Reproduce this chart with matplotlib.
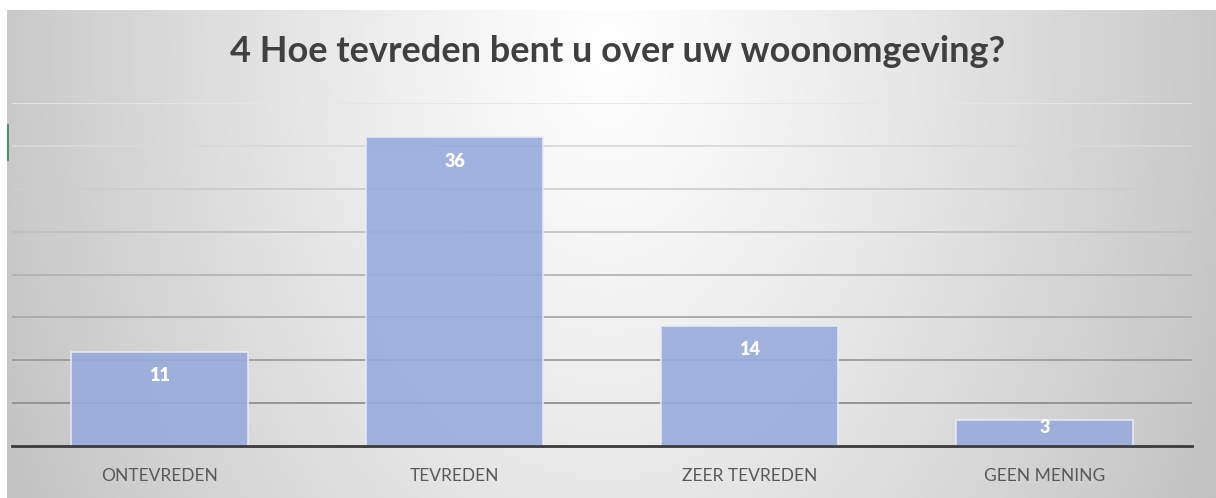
import matplotlib.pyplot as plt
import numpy as np
from matplotlib.lines import Line2D

# Data
categories = ['ONTEVREDEN', 'TEVREDEN', 'ZEER TEVREDEN', 'GEEN MENING']
counts = [11, 36, 14, 3]
title = '4 Hoe tevreden bent u over uw woonomgeving?'

plt.rcParams['font.family'] = ['Lato', 'DejaVu Sans']

fig = plt.figure(figsize=(12.16, 4.98), dpi=100)
fig.patch.set_facecolor('white')

# gradient background (white at the top middle, grey towards the sides)
W, H = 1240, 488
xx, yy = np.meshgrid(np.arange(W), np.arange(H))
r = np.sqrt(((xx - 600) / 600.0) ** 2 + ((yy - 40) / 900.0) ** 2)
shade = np.clip(1 - 0.21 * r ** 1.15, 0, 1)
fig.figimage(np.dstack([shade] * 3), xo=7, yo=0, origin='upper', zorder=0)

# small green mark on the left edge of the screenshot
fig.add_artist(Line2D([7.5 / 1216, 7.5 / 1216], [1 - 125 / 498, 1 - 160 / 498],
                      color='#2e8b57', lw=1.2, transform=fig.transFigure))

ax = fig.add_axes([12 / 1216, 52 / 498, 1180 / 1216, 343 / 498], zorder=1)
ax.patch.set_alpha(0)

x = np.arange(len(categories))
ax.bar(x, counts, width=0.6, color='#98abdc', alpha=0.9,
       edgecolor='#e8ecf6', linewidth=1.2, zorder=2)

for xi, v in zip(x, counts):
    ax.text(xi, max(v - 2.8, 2.1), str(v), ha='center', va='center',
            color='white', fontsize=13, fontweight='heavy', zorder=3)

ax.set_xlim(-0.5, len(categories) - 0.5)
ax.set_ylim(0, 40)
ax.set_yticks(np.arange(5, 41, 5))
ax.yaxis.grid(True)
ax.set_axisbelow(True)
grid_lines = ax.get_ygridlines()
for i, gl in enumerate(grid_lines):
    g = 0.56 + 0.34 * i / (len(grid_lines) - 1)
    gl.set_color((g, g, g))
    gl.set_linewidth(1.3)
ax.tick_params(axis='y', left=False, labelleft=False)

ax.set_xticks(x)
ax.set_xticklabels(categories, fontsize=12.5, color='#595959')
ax.tick_params(axis='x', bottom=False, pad=12)

for s in ['left', 'right', 'top']:
    ax.spines[s].set_visible(False)
ax.spines['bottom'].set_color('#3a3a3a')
ax.spines['bottom'].set_linewidth(2)
ax.spines['bottom'].set_zorder(4)

fig.text(618 / 1216, 1 - 51 / 498, title, ha='center', va='center',
         fontsize=26, fontweight='bold', color='#404040')

fig.savefig('out.png', dpi=100)
